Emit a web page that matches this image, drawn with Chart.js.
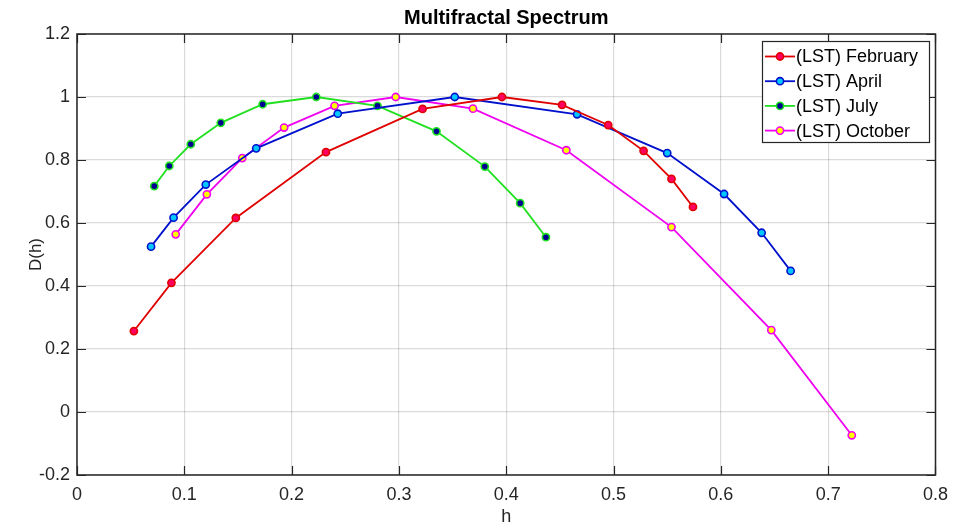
<!DOCTYPE html>
<html>
<head>
<meta charset="utf-8">
<script src="https://cdn.jsdelivr.net/npm/chart.js@4/dist/chart.umd.min.js"></script>
<style>
  html, body { margin: 0; padding: 0; background: #fff; }
  #wrap { width: 957px; height: 528px; }
</style>
</head>
<body>
<div id="wrap"><canvas id="c" width="957" height="528"></canvas></div>
<script>
// ---- data ----
const seriesNames = ['(LST) February', '(LST) April', '(LST) July', '(LST) October'];

const febH = [0.053, 0.088, 0.148, 0.232, 0.322, 0.396, 0.452, 0.495, 0.528, 0.554, 0.574];
const febD = [0.257, 0.410, 0.616, 0.825, 0.962, 1.000, 0.975, 0.911, 0.829, 0.740, 0.651];

const aprH = [0.069, 0.090, 0.120, 0.167, 0.243, 0.352, 0.466, 0.550, 0.603, 0.638, 0.665];
const aprD = [0.525, 0.617, 0.722, 0.837, 0.947, 1.000, 0.945, 0.822, 0.692, 0.569, 0.448];

const julH = [0.072, 0.086, 0.106, 0.134, 0.173, 0.223, 0.280, 0.335, 0.380, 0.413, 0.437];
const julD = [0.717, 0.781, 0.850, 0.918, 0.977, 1.000, 0.972, 0.891, 0.779, 0.663, 0.555];

const octH = [0.092, 0.121, 0.154, 0.193, 0.240, 0.297, 0.369, 0.456, 0.554, 0.647, 0.722];
const octD = [0.564, 0.691, 0.806, 0.903, 0.972, 1.000, 0.963, 0.831, 0.587, 0.260, -0.074];

const xTickLabels = ['0', '0.1', '0.2', '0.3', '0.4', '0.5', '0.6', '0.7', '0.8'];
const yTickLabels = ['-0.2', '0', '0.2', '0.4', '0.6', '0.8', '1', '1.2'];

// ---- styles ----
const lineColors = ['#e00000', '#0010cc', '#20e020', '#f000f0'];
const faceColors = ['#ff0060', '#00c8ff', '#000090', '#ffff00'];
const FONT = "'Liberation Sans', Arial, Helvetica, sans-serif";

const pairs = [[febH, febD], [aprH, aprD], [julH, julD], [octH, octD]];
const datasets = pairs.map(([hs, ds], i) => ({
  label: seriesNames[i],
  data: hs.map((h, k) => ({ x: h, y: ds[k] })),
  borderColor: lineColors[i],
  backgroundColor: faceColors[i],
  pointBackgroundColor: faceColors[i],
  pointBorderColor: lineColors[i],
  pointBorderWidth: 1.6,
  pointRadius: 3.6,
  borderWidth: 1.8,
  tension: 0,
  fill: false,
  showLine: true
}));

const framePlugin = {
  id: 'frameAndLegend',
  afterDraw(chart) {
    const ctx = chart.ctx;
    const a = chart.chartArea;
    const xs = chart.scales.x, ys = chart.scales.y;
    ctx.save();
    // inward ticks
    ctx.strokeStyle = '#262626';
    ctx.lineWidth = 1.2;
    const tl = 9;
    xs.ticks.forEach(t => {
      const px = Math.round(xs.getPixelForValue(t.value)) + 0.5;
      ctx.beginPath();
      ctx.moveTo(px, a.bottom); ctx.lineTo(px, a.bottom - tl);
      ctx.moveTo(px, a.top); ctx.lineTo(px, a.top + tl);
      ctx.stroke();
    });
    ys.ticks.forEach(t => {
      const py = Math.round(ys.getPixelForValue(t.value)) + 0.5;
      ctx.beginPath();
      ctx.moveTo(a.left, py); ctx.lineTo(a.left + tl, py);
      ctx.moveTo(a.right, py); ctx.lineTo(a.right - tl, py);
      ctx.stroke();
    });
    // frame
    ctx.lineWidth = 1.5;
    ctx.strokeStyle = '#262626';
    ctx.strokeRect(a.left, a.top, a.right - a.left, a.bottom - a.top);

    // legend box (top-right inside plot)
    const bx = 762, by = 41, bw = 167, bh = 101;
    ctx.fillStyle = '#ffffff';
    ctx.fillRect(bx, by, bw, bh);
    ctx.lineWidth = 1.2;
    ctx.strokeStyle = '#262626';
    ctx.strokeRect(bx + 0.5, by + 0.5, bw, bh);
    ctx.font = '18px ' + FONT;
    ctx.textBaseline = 'middle';
    ctx.textAlign = 'left';
    chart.data.datasets.forEach((ds, i) => {
      const cy = by + 15.5 + i * 24.7;
      ctx.strokeStyle = ds.borderColor;
      ctx.lineWidth = 1.8;
      ctx.beginPath();
      ctx.moveTo(bx + 3, cy); ctx.lineTo(bx + 33, cy);
      ctx.stroke();
      ctx.beginPath();
      ctx.arc(bx + 18, cy, 3.6, 0, Math.PI * 2);
      ctx.fillStyle = ds.pointBackgroundColor;
      ctx.fill();
      ctx.lineWidth = 1.6;
      ctx.strokeStyle = ds.pointBorderColor;
      ctx.stroke();
      ctx.fillStyle = '#000000';
      ctx.fillText(ds.label, bx + 34, cy + 1);
    });
    ctx.restore();
  }
};

new Chart(document.getElementById('c'), {
  type: 'scatter',
  data: { datasets },
  options: {
    responsive: false,
    animation: false,
    layout: { padding: { left: 0, right: 20, top: 0, bottom: 0 } },
    plugins: {
      legend: { display: false },
      tooltip: { enabled: false },
      title: {
        display: true,
        text: 'Multifractal Spectrum',
        fullSize: false,
        color: '#000',
        font: { family: FONT, size: 20, weight: 'bold', lineHeight: 1.2 },
        padding: { top: 6, bottom: 4 }
      }
    },
    scales: {
      x: {
        type: 'linear',
        min: 0, max: 0.8,
        afterFit(s) { s.height = 53; },
        afterBuildTicks(s) { s.ticks = xTickLabels.map(v => ({ value: parseFloat(v) })); },
        ticks: {
          stepSize: 0.1,
          color: '#262626',
          font: { family: FONT, size: 18 },
          padding: 9,
          maxRotation: 0,
          callback: (v, i) => xTickLabels[i]
        },
        grid: { color: 'rgba(0,0,0,0.14)', lineWidth: 1.2, drawTicks: false },
        border: { display: false },
        title: {
          display: true, text: 'h', color: '#262626',
          font: { family: FONT, size: 18, lineHeight: 1.2 },
          padding: { top: 0, bottom: 0 }
        }
      },
      y: {
        type: 'linear',
        min: -0.2, max: 1.2,
        afterFit(s) { s.width = 77; },
        afterBuildTicks(s) { s.ticks = yTickLabels.map(v => ({ value: parseFloat(v) })); },
        ticks: {
          stepSize: 0.2,
          color: '#262626',
          font: { family: FONT, size: 18 },
          padding: 7,
          callback: (v, i) => yTickLabels[i]
        },
        grid: { color: 'rgba(0,0,0,0.14)', lineWidth: 1.2, drawTicks: false },
        border: { display: false },
        title: {
          display: true, text: 'D(h)', color: '#262626',
          font: { family: FONT, size: 17, lineHeight: 1.2 },
          padding: { top: 26, bottom: 0 }
        }
      }
    }
  },
  plugins: [framePlugin]
});
</script>
</body>
</html>
